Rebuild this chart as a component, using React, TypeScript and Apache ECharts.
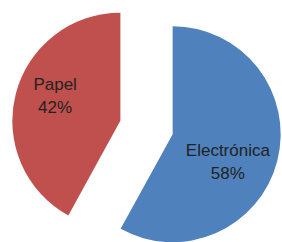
import React, { useEffect, useRef } from "react";
import * as echarts from "echarts";

const categories = ["Electrónica", "Papel"];
const values = [58, 42];
const colors = ["#4F81BD", "#C0504D"];
const labelShifts: number[][] = [[0, 14], [-10, -11]];

export default function App() {
  const ref = useRef<HTMLDivElement>(null);
  useEffect(() => {
    document.body.style.margin = "0";
    const chart = echarts.init(ref.current!, null, { renderer: "svg" });
    chart.setOption({
      animation: false,
      backgroundColor: "#ffffff",
      series: [
        {
          type: "pie",
          center: [146.5, 127.5],
          radius: 108,
          startAngle: 90,
          clockwise: true,
          selectedMode: "multiple",
          selectedOffset: 27,
          emphasis: { disabled: true },
          itemStyle: { borderWidth: 0 },
          label: {
            show: true,
            position: "inside",
            formatter: (p: any) => `${p.name}\n${p.value}%`,
            color: "#222222",
            fontFamily: "Liberation Sans",
            fontSize: 17,
            lineHeight: 23,
            align: "center",
          },
          labelLayout: (p: any) => ({
            dx: labelShifts[p.dataIndex][0],
            dy: labelShifts[p.dataIndex][1],
          }),
          labelLine: { show: false },
          data: categories.map((c, i) => ({
            name: c,
            value: values[i],
            selected: true,
            itemStyle: { color: colors[i] },
          })),
        },
      ],
    });
    return () => chart.dispose();
  }, []);
  return <div ref={ref} style={{ width: 282, height: 242 }} />;
}
